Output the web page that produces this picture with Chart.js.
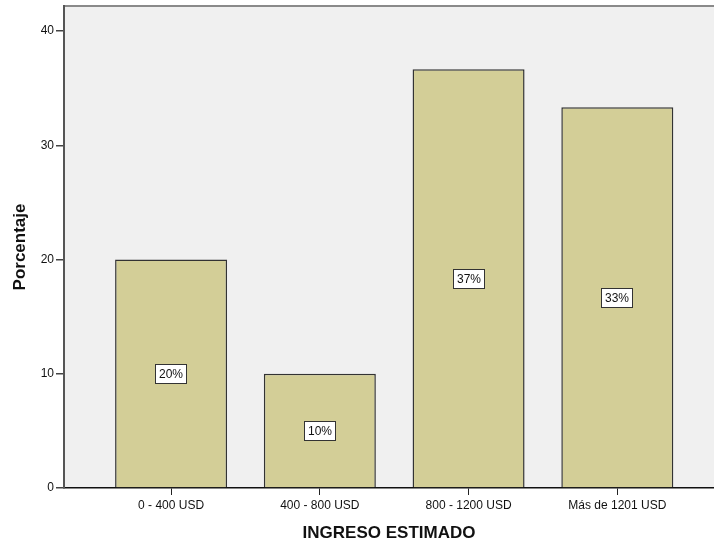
<!DOCTYPE html>
<html>
<head>
<meta charset="utf-8">
<script src="https://cdn.jsdelivr.net/npm/chart.js@4"></script>
<style>
  html, body { margin: 0; padding: 0; background: #fff; }
  #wrap { width: 714px; height: 544px; }
</style>
</head>
<body>
<div id="wrap"><canvas id="chart"></canvas></div>
<script>
const categories = ["0 - 400 USD", "400 - 800 USD", "800 - 1200 USD", "Más de 1201 USD"];
const percentages = [20, 10, 36.67, 33.33];
const barLabels = ["20%", "10%", "37%", "33%"];
const yTicks = [0, 10, 20, 30, 40];

const FONT = "'Liberation Sans', Arial, sans-serif";

// plot background + top frame line
const plotFrame = {
  id: "plotFrame",
  beforeDraw(chart) {
    const { ctx, chartArea: a } = chart;
    ctx.save();
    ctx.fillStyle = "#f0f0f0";
    ctx.fillRect(a.left, a.top, a.right - a.left, a.bottom - a.top);
    ctx.strokeStyle = "#8a8a8a";
    ctx.lineWidth = 2;
    ctx.beginPath();
    ctx.moveTo(a.left, a.top);
    ctx.lineTo(a.right, a.top);
    ctx.stroke();
    ctx.restore();
  }
};

// boxed percentage labels in the middle of each bar
const boxLabels = {
  id: "boxLabels",
  afterDatasetsDraw(chart) {
    const { ctx } = chart;
    const xs = chart.scales.x, ys = chart.scales.y;
    ctx.save();
    ctx.font = "12px " + FONT;
    ctx.textAlign = "center";
    ctx.textBaseline = "middle";
    percentages.forEach((v, i) => {
      const x = Math.round(xs.getPixelForValue(i));
      const y = Math.round(ys.getPixelForValue(v / 2));
      const w = Math.round(ctx.measureText(barLabels[i]).width) + 8;
      const h = 20;
      ctx.fillStyle = "#fff";
      ctx.fillRect(x - w / 2, y - h / 2, w, h);
      ctx.strokeStyle = "#333";
      ctx.lineWidth = 1;
      ctx.strokeRect(x - w / 2 + 0.5, y - h / 2 + 0.5, w - 1, h - 1);
      ctx.fillStyle = "#111";
      ctx.fillText(barLabels[i], x, y + 1);
    });
    ctx.restore();
  }
};

const ctx = document.getElementById("chart").getContext("2d");
const chart = new Chart(ctx, {
  type: "bar",
  data: {
    datasets: [{
      label: "Porcentaje",
      data: percentages.map((v, i) => ({ x: i, y: v })),
      backgroundColor: "#d3ce97",
      borderColor: "#333333",
      borderWidth: 1.5,
      categoryPercentage: 1,
      barPercentage: 0.753
    }]
  },
  options: {
    responsive: true,
    maintainAspectRatio: false,
    animation: false,
    layout: { padding: { top: 6, right: 0, left: 0, bottom: 0 } },
    plugins: {
      legend: { display: false },
      tooltip: { enabled: false },
      title: { display: false }
    },
    scales: {
      x: {
        type: "linear",
        offset: false,
        min: -0.72,
        max: 3.65,
        afterBuildTicks: s => { s.ticks = categories.map((c, i) => ({ value: i })); },
        afterFit: s => { s.height = 56; s.paddingLeft = 0; s.paddingRight = 0; },
        ticks: {
          autoSkip: false,
          maxRotation: 0,
          padding: 3,
          color: "#111",
          font: { family: FONT, size: 12 },
          callback: v => categories[Math.round(v)]
        },
        grid: { offset: false, drawOnChartArea: false, drawTicks: true, tickLength: 7, color: "#222", lineWidth: 1 },
        border: { display: true, color: "#111", width: 1.5 },
        title: {
          display: true,
          text: "INGRESO ESTIMADO",
          color: "#111",
          font: { family: FONT, size: 17, weight: "bold" },
          padding: { top: 0, bottom: 0 }
        }
      },
      y: {
        min: 0,
        max: 42.2,
        afterBuildTicks: s => { s.ticks = yTicks.map(v => ({ value: v })); },
        afterFit: s => { s.width = 64; s.paddingTop = 0; s.paddingBottom = 0; },
        ticks: {
          padding: 2,
          color: "#111",
          font: { family: FONT, size: 12 }
        },
        grid: { drawOnChartArea: false, drawTicks: true, tickLength: 8, color: "#444", lineWidth: 1.5 },
        border: { display: true, color: "#555", width: 2 },
        title: {
          display: true,
          text: "Porcentaje",
          color: "#111",
          font: { family: FONT, size: 17, weight: "bold" },
          padding: { top: 10, bottom: 0 }
        }
      }
    }
  },
  plugins: [plotFrame, boxLabels]
});
</script>
</body>
</html>
